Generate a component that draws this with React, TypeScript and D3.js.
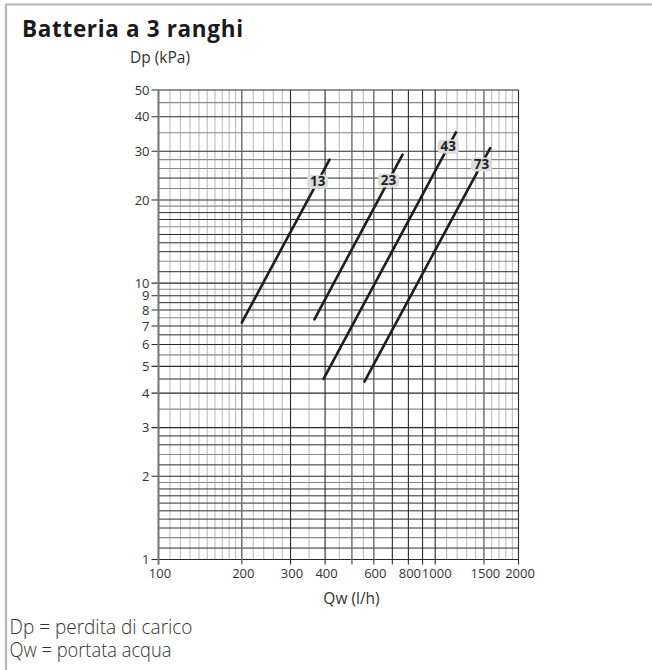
import React from "react";
import * as d3 from "d3";

// chart texts
const title = "Batteria a 3 ranghi";
const yAxisTitle = "Dp (kPa)";
const xAxisTitle = "Qw (l/h)";
const notes = ["Dp = perdita di carico", "Qw = portata acqua"];

// curves (straight lines on log-log paper)
const seriesNames = ["13", "23", "43", "73"];
const qwFrom = [200, 366, 395, 555];
const dpFrom = [7.2, 7.4, 4.5, 4.4];
const qwTo = [415, 762, 1188, 1580];
const dpTo = [28, 29.2, 35.1, 30.8];
const labelAtDp = [23.3, 23.5, 31.2, 26.9];

// axis ticks and grid
const xTickLabels = [100, 200, 300, 400, 600, 800, 1000, 1500, 2000];
const xMajor = [100, 200, 300, 400, 500, 600, 700, 800, 900, 1000, 1500, 2000];
const xMinor = [
  110, 120, 130, 140, 150, 160, 170, 180, 190,
  220, 240, 260, 280, 350, 450, 550,
  1100, 1200, 1300, 1400, 1600, 1700, 1800, 1900,
];
const yTickLabels = [1, 2, 3, 4, 5, 6, 7, 8, 9, 10, 20, 30, 40, 50];
const yMinor = [
  1.1, 1.2, 1.3, 1.4, 1.5, 1.6, 1.7, 1.8, 1.9, 2.2, 2.4, 2.6, 2.8, 3.5, 4.5,
  5.5, 6.5, 7.5, 8.5, 9.5,
  11, 12, 13, 14, 15, 16, 17, 18, 19, 22, 24, 26, 28, 35, 45,
];
const yLight = [1.2, 1.9, 2.4, 3.5, 5.5, 7.5, 9.5, 12, 16, 19, 22, 26, 28, 35, 45];

const width = 652;
const height = 670;
const plotLeft = 158.5;
const plotRight = 518.5;
const plotTop = 90;
const plotBottom = 559.5;

const x = d3.scaleLog().domain([100, 2000]).range([plotLeft, plotRight]);
const y = d3.scaleLog().domain([1, 50]).range([plotBottom, plotTop]);

const font = "'Open Sans', 'DejaVu Sans', sans-serif";

const line = d3
  .line<[number, number]>()
  .x((d) => x(d[0]))
  .y((d) => y(d[1]));

function labelQw(i: number) {
  const t =
    (Math.log(labelAtDp[i]) - Math.log(dpFrom[i])) /
    (Math.log(dpTo[i]) - Math.log(dpFrom[i]));
  return Math.exp(Math.log(qwFrom[i]) + t * (Math.log(qwTo[i]) - Math.log(qwFrom[i])));
}

export default function App() {
  return (
    <svg
      width={width}
      height={height}
      style={{ position: "absolute", left: 0, top: 0, background: "#fff" }}
      fontFamily={font}
    >
      {/* frame */}
      <path d={`M6,${height} V4.5 H${width}`} fill="none" stroke="#b5b5b5" strokeWidth={2.2} />

      <text x={22} y={37} fontSize={22.5} fontWeight={700} fill="#1a1a1a" textLength={221}>
        {title}
      </text>
      <text x={130} y={63} fontSize={15.5} fill="#333">
        {yAxisTitle}
      </text>

      {/* light vertical grid */}
      {xMinor.map((v) => (
        <line key={"xm" + v} x1={x(v)} x2={x(v)} y1={plotTop} y2={plotBottom} stroke="#b8b8b8" strokeWidth={1} />
      ))}
      {/* horizontal grid */}
      {yMinor.map((v) => (
        <line
          key={"ym" + v}
          x1={plotLeft}
          x2={plotRight}
          y1={y(v)}
          y2={y(v)}
          stroke={yLight.includes(v) ? "#8a8a8a" : "#2e2e2e"}
          strokeWidth={yLight.includes(v) ? 1.1 : 1}
        />
      ))}
      {yTickLabels.map((v) => (
        <line key={"yM" + v} x1={plotLeft - 7} x2={plotRight} y1={y(v)} y2={y(v)} stroke="#2a2a2a" strokeWidth={1.1} />
      ))}
      {xMajor.map((v) => (
        <line
          key={"xM" + v}
          x1={x(v)}
          x2={x(v)}
          y1={plotTop}
          y2={plotBottom + 5}
          stroke={[200, 500, 600, 1500].includes(v) ? "#6a6a6a" : "#2a2a2a"}
          strokeWidth={[200, 500, 600, 1500].includes(v) ? 1.4 : 1.1}
        />
      ))}
      <line x1={plotLeft} x2={plotLeft} y1={plotTop} y2={plotBottom + 5} stroke="#777" strokeWidth={2} />

      {/* tick labels */}
      {yTickLabels.map((v) => (
        <text key={"yl" + v} x={plotLeft - 9} y={y(v)} dy="0.36em" textAnchor="end" fontSize={13} fill="#333">
          {v}
        </text>
      ))}
      {xTickLabels.map((v) => (
        <text key={"xl" + v} x={x(v) + 1.5} y={578} textAnchor="middle" fontSize={13} fill="#333">
          {v}
        </text>
      ))}
      <text x={(plotLeft + plotRight) / 2 + 13} y={604} textAnchor="middle" fontSize={15.5} fill="#333">
        {xAxisTitle}
      </text>

      {/* curves */}
      {seriesNames.map((name, i) => (
        <path
          key={"c" + name}
          d={line([
            [qwFrom[i], dpFrom[i]],
            [qwTo[i], dpTo[i]],
          ]) || ""}
          fill="none"
          stroke="#1e1e1e"
          strokeWidth={2.6}
          strokeLinecap="round"
        />
      ))}
      {seriesNames.map((name, i) => {
        const cx = x(labelQw(i));
        const cy = y(labelAtDp[i]);
        return (
          <g key={"l" + name}>
            <rect x={cx - 10.5} y={cy - 7} width={21} height={14} rx={4} fill="#dcdcdc" />
            <text x={cx} y={cy} dy="0.36em" textAnchor="middle" fontSize={13.5} fontWeight={700} fill="#222">
              {name}
            </text>
          </g>
        );
      })}

      {/* notes */}
      {notes.map((n, i) => (
        <text
          key={"n" + i}
          x={9.5}
          y={634 + i * 22.5}
          fontSize={19.5}
          fontWeight={300}
          fill="#333"
          textLength={i === 0 ? 183 : 162}
          lengthAdjust="spacingAndGlyphs"
        >
          {n}
        </text>
      ))}
    </svg>
  );
}
